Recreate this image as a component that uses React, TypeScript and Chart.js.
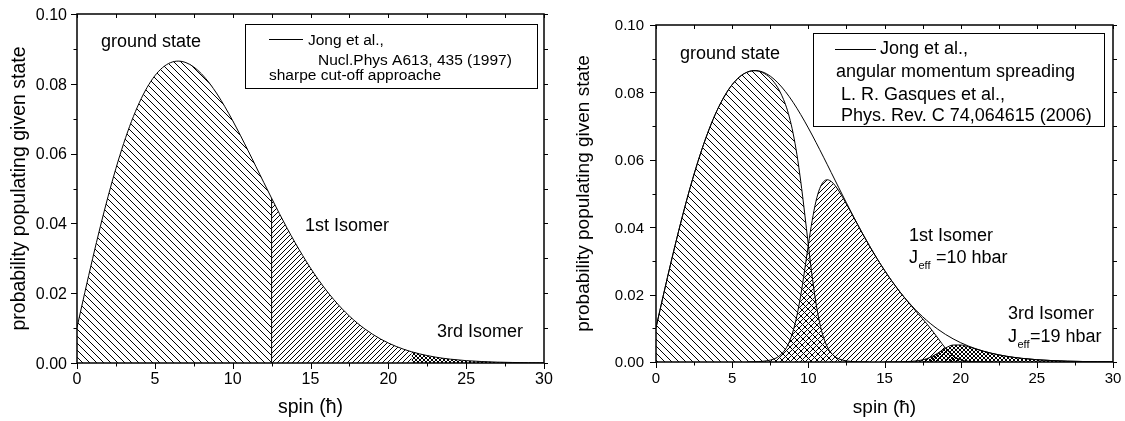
import React, { useEffect, useRef } from "react";
import { Chart, registerables } from "chart.js";

Chart.register(...registerables);

// ---------- data ----------
const spin = [
  0, 0.5, 1, 1.5, 2, 2.5, 3, 3.5, 4, 4.5, 5, 5.5, 6, 6.5, 7, 7.5, 8, 8.5,
  8.75, 9, 9.25, 9.5, 9.75, 10, 10.25, 10.5, 10.75, 11, 11.25, 11.5, 11.75, 12,
  12.5, 13, 13.5, 14, 14.5, 15, 15.5, 16, 16.5, 17, 17.5, 18, 18.5, 19, 19.5, 20, 20.5, 21, 21.5, 22,
  23, 24, 25, 26, 27, 28, 29, 30,
];

// Jong et al. envelope (sharp cut-off distribution)
const jongEnvelope = [
  0.01016, 0.02017, 0.02987, 0.03912, 0.04779, 0.05576, 0.06293, 0.06922, 0.07457, 0.07893, 0.0823, 0.08466, 0.08605, 0.0865, 0.08607, 0.08483, 0.08285, 0.08023,
  0.07871, 0.07707, 0.0753, 0.07343, 0.07148, 0.06945, 0.06735, 0.0652, 0.063, 0.06077, 0.05852, 0.05625, 0.05398, 0.05171,
  0.04722, 0.04283, 0.0386, 0.03457, 0.03077, 0.02721, 0.02392, 0.0209, 0.01815, 0.01567, 0.01345, 0.01147, 0.00973, 0.0082, 0.00688, 0.00573, 0.00475, 0.00392, 0.00321, 0.00262,
  0.00171, 0.00109, 0.00068, 0.00042, 0.00025, 0.00015, 0.00008, 0.00005,
];

// angular momentum spreading (right panel)
const groundSpread: (number | null)[] = [
  0.01016, 0.02017, 0.02987, 0.03912, 0.04779, 0.05576, 0.06293, 0.06922, 0.07457, 0.07893, 0.0823, 0.08466, 0.08602, 0.08642, 0.08586, 0.08426, 0.08136, 0.07642,
  0.07274, 0.06788, 0.06156, 0.05368, 0.04449, 0.03473, 0.02543, 0.01753, 0.01149, 0.00724, 0.00444, 0.00267, 0.00158, 0.00093,
  0.00032, 0.00011, 0.00004, 0.00001, null, null, null, null, null, null, null, null, null, null, null, null, null, null, null, null,
  null, null, null, null, null, null, null, null,
];

const isomer1Spread: (number | null)[] = [
  null, null, null, null, null, null, null, null, null, null, null, null, 0.00003, 0.00008, 0.00021, 0.00057, 0.00149, 0.00381,
  0.00597, 0.00919, 0.01374, 0.01975, 0.02699, 0.03473, 0.04192, 0.04767, 0.05151, 0.05353, 0.05408, 0.05358, 0.0524, 0.05078,
  0.0469, 0.04272, 0.03856, 0.03456, 0.03076, 0.0272, 0.0239, 0.02085, 0.01803, 0.01539, 0.01281, 0.0101, 0.00711, 0.0041, 0.00185, 0.00068, 0.00023, 0.00007, 0.00002, 0.00001,
  null, null, null, null, null, null, null, null,
];

const isomer3Spread: (number | null)[] = [
  null, null, null, null, null, null, null, null, null, null, null, null, null, null, null, null, null, null,
  null, null, null, null, null, null, null, null, null, null, null, null, null, null,
  null, null, null, null, null, 0.00001, 0.00002, 0.00005, 0.00012, 0.00028, 0.00064, 0.00137, 0.00262, 0.0041, 0.00503, 0.00505, 0.00452, 0.00385, 0.00319, 0.00261,
  0.00171, 0.00109, 0.00068, 0.00042, 0.00025, 0.00015, 0.00008, 0.00005,
];

// sharp cut-off boundaries (left panel)
const sharpCut1 = 12.5;
const sharpCut3 = 21.5;

// axis ticks
const xMajorTicks = [0, 5, 10, 15, 20, 25, 30];
const xMinorTicks = [2.5, 7.5, 12.5, 17.5, 22.5, 27.5];
const xTickLabels = ["0", "5", "10", "15", "20", "25", "30"];
const yMajorTicks = [0, 0.02, 0.04, 0.06, 0.08, 0.1];
const yMinorTicks = [0.01, 0.03, 0.05, 0.07, 0.09];
const yTickLabels = ["0.00", "0.02", "0.04", "0.06", "0.08", "0.10"];

const xTitle = "spin (\u0127)";
const yTitle = "probability populating given state";

// ---------- helpers ----------
const FONT = '"Liberation Sans", Arial, Helvetica, sans-serif';

function pts(values: (number | null)[], from = -Infinity, to = Infinity) {
  const out: { x: number; y: number }[] = [];
  spin.forEach((x, i) => {
    const y = values[i];
    if (y !== null && y !== undefined && x >= from && x <= to) out.push({ x, y });
  });
  return out;
}

function hatch(size: number, back: boolean, fwd: boolean): CanvasPattern {
  const c = document.createElement("canvas");
  c.width = size;
  c.height = size;
  const g = c.getContext("2d")!;
  g.fillStyle = "#000";
  for (let i = 0; i < size; i++) {
    if (back) g.fillRect(i, i, 1, 1);
    if (fwd) g.fillRect(size - 1 - i, i, 1, 1);
  }
  return g.createPattern(c, "repeat")!;
}

type TextItem = { text: string; x: number; y: number; size: number; sub?: string; after?: string };
type PanelStyle = {
  tickFont: number;
  yLabelGap: number;
  xLabelBaseline: number;
  yTitleX: number;
  xTitleBaseline: number;
  titleFont: number;
  legendBox: [number, number, number, number];
  legendSample: [number, number, number];
  legendLines: TextItem[];
  notes: TextItem[];
};

function drawText(ctx: CanvasRenderingContext2D, t: TextItem) {
  ctx.font = `${t.size}px ${FONT}`;
  ctx.textAlign = "left";
  ctx.textBaseline = "alphabetic";
  ctx.fillText(t.text, t.x, t.y);
  if (t.sub !== undefined) {
    let x = t.x + ctx.measureText(t.text).width;
    ctx.font = `${Math.round(t.size * 0.6)}px ${FONT}`;
    ctx.fillText(t.sub, x + 0.5, t.y + 6);
    x += ctx.measureText(t.sub).width + 1;
    ctx.font = `${t.size}px ${FONT}`;
    ctx.fillText(t.after || "", x, t.y);
  }
}

function framePlugin(style: PanelStyle) {
  return {
    id: "frameAxes",
    afterDatasetsDraw(chart: any) {
      const ctx: CanvasRenderingContext2D = chart.ctx;
      const xs = chart.scales.x;
      const ys = chart.scales.y;
      const { left, right, top, bottom } = chart.chartArea;
      ctx.save();
      ctx.strokeStyle = "#000";
      ctx.fillStyle = "#000";

      // frame
      ctx.lineWidth = 1.5;
      ctx.strokeRect(left, top, right - left, bottom - top);

      // ticks
      ctx.lineWidth = 1;
      ctx.beginPath();
      const xt = (v: number, len: number) => {
        const p = Math.round(xs.getPixelForValue(v)) + 0.5;
        ctx.moveTo(p, bottom);
        ctx.lineTo(p, bottom + len);
        ctx.moveTo(p, top);
        ctx.lineTo(p, top + 4);
      };
      const yt = (v: number, len: number) => {
        const p = Math.round(ys.getPixelForValue(v)) + 0.5;
        ctx.moveTo(left, p);
        ctx.lineTo(left - len, p);
        ctx.moveTo(right, p);
        ctx.lineTo(right + 4, p);
      };
      xMajorTicks.forEach((v) => xt(v, 6));
      xMinorTicks.forEach((v) => xt(v, 3.5));
      yMajorTicks.forEach((v) => yt(v, 6));
      yMinorTicks.forEach((v) => yt(v, 3.5));
      ctx.stroke();

      // tick labels
      ctx.font = `${style.tickFont}px ${FONT}`;
      ctx.textBaseline = "alphabetic";
      ctx.textAlign = "center";
      xMajorTicks.forEach((v, i) => {
        ctx.fillText(xTickLabels[i], xs.getPixelForValue(v), style.xLabelBaseline);
      });
      ctx.textAlign = "right";
      yMajorTicks.forEach((v, i) => {
        ctx.fillText(yTickLabels[i], left - style.yLabelGap, ys.getPixelForValue(v) + style.tickFont * 0.36);
      });

      // axis titles
      ctx.font = `${style.titleFont}px ${FONT}`;
      ctx.textAlign = "center";
      ctx.fillText(xTitle, (left + right) / 2, style.xTitleBaseline);
      ctx.save();
      ctx.translate(style.yTitleX, (top + bottom) / 2);
      ctx.rotate(-Math.PI / 2);
      ctx.fillText(yTitle, 0, style.titleFont * 0.36);
      ctx.restore();

      // legend box
      const [bx, by, bw, bh] = style.legendBox;
      ctx.fillStyle = "#fff";
      ctx.fillRect(bx, by, bw, bh);
      ctx.fillStyle = "#000";
      ctx.lineWidth = 1;
      ctx.strokeRect(bx + 0.5, by + 0.5, bw, bh);
      const [sx1, sx2, sy] = style.legendSample;
      ctx.beginPath();
      ctx.moveTo(sx1, sy + 0.5);
      ctx.lineTo(sx2, sy + 0.5);
      ctx.stroke();
      style.legendLines.forEach((t) => drawText(ctx, t));

      // annotations
      style.notes.forEach((t) => drawText(ctx, t));
      ctx.restore();
    },
  };
}

function baseOptions(padding: { left: number; right: number; top: number; bottom: number }) {
  return {
    responsive: false,
    maintainAspectRatio: false,
    animation: false as const,
    devicePixelRatio: 1,
    layout: { padding },
    plugins: {
      legend: { display: false },
      tooltip: { enabled: false },
      title: { display: false },
    },
    events: [],
    scales: {
      x: { type: "linear" as const, min: 0, max: 30, display: false },
      y: { type: "linear" as const, min: 0, max: 0.1, display: false },
    },
    elements: {
      point: { radius: 0 },
      line: { borderColor: "#000", borderWidth: 1, cubicInterpolationMode: "monotone" as const },
    },
  };
}

const noBorder = { borderColor: "rgba(0,0,0,0)", borderWidth: 0 };

function makeLeft(canvas: HTMLCanvasElement) {
  const back = hatch(7, true, false);
  const fwd = hatch(5, false, true);
  const cross = hatch(4, true, true);
  const cutIdx = spin.indexOf(sharpCut1);
  const style: PanelStyle = {
    tickFont: 16,
    yLabelGap: 10,
    xLabelBaseline: 384,
    yTitleX: 18,
    xTitleBaseline: 413,
    titleFont: 19.5,
    legendBox: [245, 24, 292, 64],
    legendSample: [269, 303, 39],
    legendLines: [
      { text: "Jong et al.,", x: 308, y: 45, size: 15.5 },
      { text: "Nucl.Phys A613, 435 (1997)", x: 318, y: 64.5, size: 15.5 },
      { text: "sharpe cut-off approache", x: 269, y: 80, size: 15.5 },
    ],
    notes: [
      { text: "ground state", x: 101, y: 47, size: 18 },
      { text: "1st Isomer", x: 305, y: 231, size: 18 },
      { text: "3rd Isomer", x: 437, y: 337, size: 18 },
    ],
  };
  return new Chart(canvas, {
    type: "line",
    data: {
      datasets: [
        { data: pts(jongEnvelope), fill: false, borderColor: "#000", borderWidth: 1 },
        {
          data: [
            { x: sharpCut1, y: 0 },
            { x: sharpCut1, y: jongEnvelope[cutIdx] },
          ],
          fill: false,
          borderColor: "#000",
          borderWidth: 1,
          cubicInterpolationMode: "default",
          tension: 0,
        },
        { data: pts(jongEnvelope, 0, sharpCut1), fill: "origin", backgroundColor: back, ...noBorder },
        { data: pts(jongEnvelope, sharpCut1, sharpCut3), fill: "origin", backgroundColor: fwd, ...noBorder },
        { data: pts(jongEnvelope, sharpCut3, 30), fill: "origin", backgroundColor: cross, ...noBorder },
      ] as any,
    },
    options: baseOptions({ left: 77, right: 18, top: 14, bottom: 58 }) as any,
    plugins: [framePlugin(style)],
  });
}

function makeRight(canvas: HTMLCanvasElement) {
  const back = hatch(7, true, false);
  const fwd = hatch(5, false, true);
  const cross = hatch(4, true, true);
  const style: PanelStyle = {
    tickFont: 15,
    yLabelGap: 12,
    xLabelBaseline: 383,
    yTitleX: 20,
    xTitleBaseline: 413,
    titleFont: 19,
    legendBox: [251, 33, 291, 93],
    legendSample: [273, 314, 49],
    legendLines: [
      { text: "Jong et al.,", x: 318, y: 54, size: 18 },
      { text: "angular momentum spreading", x: 274, y: 77, size: 18 },
      { text: "L. R. Gasques et al.,", x: 279, y: 100, size: 18 },
      { text: "Phys. Rev. C 74,064615 (2006)", x: 279, y: 121, size: 18 },
    ],
    notes: [
      { text: "ground state", x: 118, y: 59, size: 18 },
      { text: "1st Isomer", x: 347, y: 241, size: 18 },
      { text: "J", x: 347, y: 263, size: 18, sub: "eff", after: " =10 hbar" },
      { text: "3rd Isomer", x: 446, y: 319, size: 18 },
      { text: "J", x: 446, y: 342, size: 18, sub: "eff", after: "=19 hbar" },
    ],
  };
  return new Chart(canvas, {
    type: "line",
    data: {
      datasets: [
        { data: pts(jongEnvelope), fill: false, borderColor: "#000", borderWidth: 1 },
        { data: pts(groundSpread), fill: "origin", backgroundColor: back, borderColor: "#000", borderWidth: 1 },
        { data: pts(isomer1Spread), fill: "origin", backgroundColor: fwd, borderColor: "#000", borderWidth: 1 },
        { data: pts(isomer3Spread), fill: "origin", backgroundColor: cross, borderColor: "#000", borderWidth: 1 },
      ] as any,
    },
    options: baseOptions({ left: 94, right: 12, top: 25, bottom: 59 }) as any,
    plugins: [framePlugin(style)],
  });
}

export default function App() {
  const leftRef = useRef<HTMLCanvasElement>(null);
  const rightRef = useRef<HTMLCanvasElement>(null);
  useEffect(() => {
    const charts = [makeLeft(leftRef.current!), makeRight(rightRef.current!)];
    return () => charts.forEach((c) => c.destroy());
  }, []);
  return (
    <div style={{ position: "fixed", left: 0, top: 0, width: 1125, height: 421, background: "#fff" }}>
      <canvas
        ref={leftRef}
        width={562}
        height={421}
        style={{ position: "absolute", left: 0, top: 0, width: 562, height: 421 }}
      />
      <canvas
        ref={rightRef}
        width={563}
        height={421}
        style={{ position: "absolute", left: 562, top: 0, width: 563, height: 421 }}
      />
    </div>
  );
}
